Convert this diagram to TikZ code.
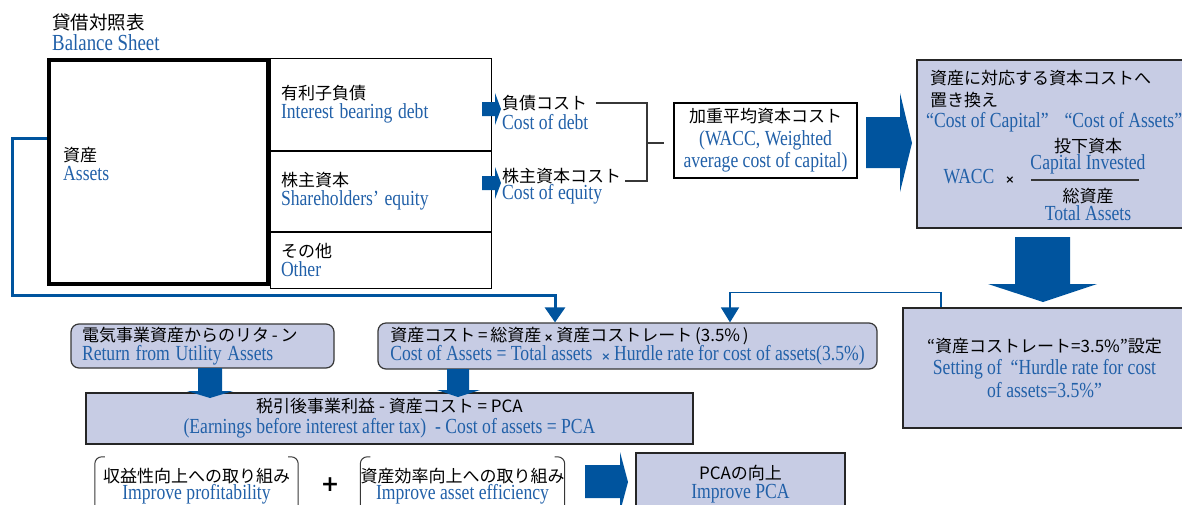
\documentclass[tikz,border=0pt]{standalone}
\usepackage{fontspec}
\setmainfont{Liberation Serif}[FakeStretch=0.82]
\newfontfamily\jpfont{Noto Sans CJK JP}
\newfontfamily\symfont{DejaVu Sans}
\usetikzlibrary{arrows.meta,positioning}
\definecolor{enblue}{RGB}{33,96,168}
\definecolor{arrowblue}{RGB}{0,84,158}
\definecolor{boxfill}{RGB}{199,204,228}
\definecolor{edgegray}{RGB}{55,55,55}
\newcommand\jpf{\jpfont\fontsize{17}{19}\selectfont}
\newcommand\enf{\rmfamily\fontsize{21.5}{19}\selectfont\color{enblue}}
\newcommand\tms{{\symfont\bfseries\fontsize{11}{11}\selectfont ×}}

\begin{document}
\begin{tikzpicture}[x=1pt,y=-1pt,
  lbl/.style={inner sep=0pt,align=left,font=\fontsize{17}{19}\selectfont},
  bsbox/.style={draw,line width=4pt,minimum width=219pt,minimum height=224pt},
  bsrow/.style={draw,line width=1pt,text width=199pt,inner xsep=11pt,inner ysep=0pt,align=left,font=\fontsize{17}{19}\selectfont},
  rbox/.style={draw=edgegray,line width=1.2pt,fill=boxfill,rounded corners=8pt,inner ysep=0pt,align=left,font=\fontsize{17}{19}\selectfont},
  sbox/.style={draw=black!85,line width=1.2pt,fill=boxfill,inner sep=0pt,align=center,font=\fontsize{17}{19}\selectfont},
  bracket/.style={draw=edgegray,line width=1.3pt},
  brk/.style={draw=edgegray,line width=1pt,rounded corners=7pt},
  fracline/.style={draw=edgegray,line width=1.3pt},
  loopline/.style={draw=arrowblue,line width=3pt,-{Triangle[width=20pt,length=15pt]}},
  rateline/.style={draw=arrowblue,line width=1.6pt,-{Triangle[width=18pt,length=15pt]}},
  blockarrow/.style={fill=arrowblue}]
\useasboundingbox (0,0) rectangle (1182,504);

\node[lbl,anchor=west] (title) at (52,32) {{\jpfont\fontsize{18.5}{21}\selectfont 貸借対照表}\\[2pt]{\enf\fontsize{23}{21}\selectfont Balance Sheet}};

\node[bsbox] (bsassets) at (158.5,172) {};
\node[lbl,anchor=west] (assets) at (63,164) {{\jpf 資産}\\{\enf Assets}};
\node[bsrow,minimum height=92pt] (debt) at (380.5,104) {{\jpf 有利子負債}\\{\enf Interest bearing debt}};
\node[bsrow,minimum height=80pt,below=0pt of debt] (equity) {{\jpf 株主資本}\\{\enf Shareholders’ equity}};
\node[bsrow,minimum height=56pt,below=0pt of equity] (other) {{\jpf その他}\\{\enf Other}};

\fill[blockarrow] (482,102) -- (495,102) -- (495,93) -- (501,109) -- (495,125) -- (495,116) -- (482,116) -- cycle;
\fill[blockarrow] (482,176) -- (495,176) -- (495,167) -- (501,183) -- (495,199) -- (495,190) -- (482,190) -- cycle;

\node[lbl,anchor=west] (codjp) at (502,103) {\jpf 負債コスト};
\node[lbl,anchor=west] (coden) at (502,122) {\enf Cost of debt};
\node[lbl,anchor=west] (coejp) at (502,176) {\jpf 株主資本コスト};
\node[lbl,anchor=west] (coeen) at (502,194) {\enf Cost of equity};

\node[draw,line width=1.2pt,fill=white,minimum width=183pt,minimum height=75pt,inner sep=0pt,align=center,font=\fontsize{17}{19}\selectfont] (wacc) at (765.5,140.5) {{\jpf 加重平均資本コスト}\\[4pt]{\enf (WACC, Weighted}\\[1pt]{\enf average cost of capital)}};
\coordinate (wjoin) at (647,143);
\draw[bracket] ([xshift=9pt]codjp.east) -| (wjoin) |- ([xshift=4pt,yshift=-5pt]coejp.east);
\draw[bracket,shorten >=9pt] (wjoin) -- (wjoin -| wacc.west);

\fill[blockarrow] (866,117) -- (900,117) -- (900,93) -- (912,143) -- (900,192) -- (900,168) -- (866,168) -- cycle;

\node[sbox,minimum width=270pt,minimum height=168pt] (repl) at (1052,144) {};
\node[lbl,anchor=west] (repljp) at (930,89) {{\jpf 資産に対応する資本コストへ}\\[3pt]{\jpf 置き換え}};
\node[lbl,anchor=west] (cocoa) at (926,122) {\enf “Cost of Capital”\hspace{16pt}“Cost of Assets”};
\node[lbl,align=center] (invest) at (1088,156.5) {{\jpf 投下資本}\\[-2pt]{\enf Capital Invested}};
\draw[fracline] (1031,180) -- (1139,180);
\node[lbl,align=center] (totass) at (1088,204) {{\jpf 総資産}\\[-1pt]{\enf Total Assets}};
\node[lbl] (wacclbl) at (969,177) {\enf WACC};
\node[lbl] (times) at (1010,180) {\tms};

\fill[blockarrow] (1015,237) -- (1070,237) -- (1070,284) -- (1097,284) -- (1043,302) -- (988,284) -- (1015,284) -- cycle;

\node[sbox,minimum width=283pt,minimum height=120pt] (hurdle) at (1044.5,368) {{\jpf “資産コストレート=3.5\%”設定}\\[3pt]{\enf Setting of \ “Hurdle rate for cost}\\[2pt]{\enf of assets=3.5\%”}};

\node[rbox,text width=241pt,inner xsep=11pt,minimum height=44pt] (ret) at (202.5,346) {{\jpf 電気事業資産からのリタ\,-\,ン}\\{\enf Return from Utility Assets}};
\node[rbox,inner xsep=0pt,minimum width=499pt,minimum height=46pt] (coa) at (627.5,346) {{\jpf 資産コスト\,=\,総資産\,\tms\,資産コストレート\,(3.5\%\,)}\\{\enf Cost of Assets = Total assets \ \tms\,Hurdle rate for cost of assets(3.5\%)}};

\draw[loopline] ([yshift=34pt]bsassets.west) -- ++(-35,0) |- ([xshift=-72.5pt,yshift=27pt]coa.north) -- ([xshift=-72.5pt]coa.north);
\draw[rateline] ([xshift=-103.5pt]hurdle.north) |- ([xshift=102.5pt,yshift=30pt]coa.north) -- ([xshift=102.5pt]coa.north);

\node[sbox,minimum width=607pt,minimum height=51pt] (pca) at (389.5,418.5) {{\jpf 税引後事業利益 - 資産コスト = PCA}\\[2pt]{\enf (Earnings before interest after tax) \ - Cost of assets = PCA}};

\fill[blockarrow] (198,368) -- (222,368) -- (222,391) -- (233,391) -- (210,398) -- (187,391) -- (198,391) -- cycle;
\fill[blockarrow] (447,369) -- (469,369) -- (469,390) -- (480,390) -- (458,397) -- (437,390) -- (447,390) -- cycle;

\node[lbl,align=center,minimum width=203pt,minimum height=54pt] (profit) at (196.5,486) {{\jpf 収益性向上への取り組み}\\[-2pt]{\enf Improve profitability}};
\draw[brk] ([xshift=10pt,yshift=2pt]profit.north west) -- ([yshift=2pt]profit.north west) -- (profit.south west);
\draw[brk] ([xshift=-10pt,yshift=2pt]profit.north east) -- ([yshift=2pt]profit.north east) -- (profit.south east);
\node[lbl] (plus) at (330,485) {\symfont\bfseries\fontsize{22}{22}\selectfont +};
\node[lbl,align=center,minimum width=201pt,minimum height=54pt] (effic) at (462.5,486) {{\jpf 資産効率向上への取り組み}\\[-2pt]{\enf Improve asset efficiency}};
\draw[brk] ([xshift=10pt,yshift=2pt]effic.north west) -- ([yshift=2pt]effic.north west) -- (effic.south west);
\draw[brk] ([xshift=-10pt,yshift=2pt]effic.north east) -- ([yshift=2pt]effic.north east) -- (effic.south east);

\fill[blockarrow] (585,465) -- (620,465) -- (620,452) -- (628,482) -- (620,512) -- (620,498) -- (585,498) -- cycle;

\node[sbox,minimum width=209pt,minimum height=62pt] (imppca) at (740.5,484) {{\jpf PCAの向上}\\{\enf Improve PCA}};
\end{tikzpicture}
\end{document}
